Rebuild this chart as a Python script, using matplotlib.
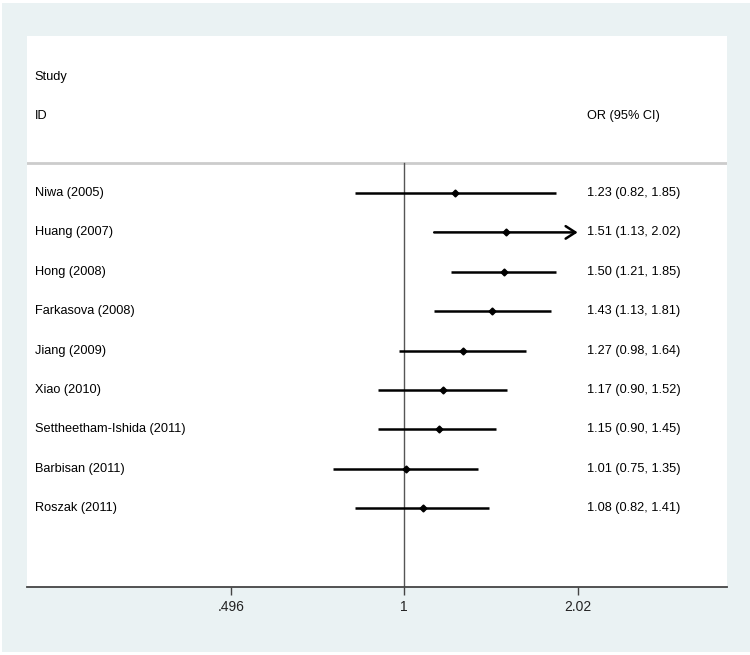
import numpy as np
import matplotlib
matplotlib.use("Agg")
import matplotlib.pyplot as plt
from matplotlib.patches import Rectangle

studies = ["Niwa (2005)", "Huang (2007)", "Hong (2008)", "Farkasova (2008)", "Jiang (2009)",
           "Xiao (2010)", "Settheetham-Ishida (2011)", "Barbisan (2011)", "Roszak (2011)"]
orv = [1.23, 1.51, 1.50, 1.43, 1.27, 1.17, 1.15, 1.01, 1.08]
lo = [0.82, 1.13, 1.21, 1.13, 0.98, 0.90, 0.90, 0.75, 0.82]
hi = [1.85, 2.02, 1.85, 1.81, 1.64, 1.52, 1.45, 1.35, 1.41]
tick_vals = [0.496, 1, 2.02]
tick_labels = [".496", "1", "2.02"]
clip_max = 2.02

plt.rcParams['font.family'] = ['Liberation Sans', 'DejaVu Sans']

W, H = 750, 655
fig = plt.figure(figsize=(W/100, H/100), dpi=100, facecolor='white')
fig.patches.append(Rectangle((2/W, 3/H), 1 - 2/W, 1 - 6/H, transform=fig.transFigure,
                             facecolor='#eaf2f3', edgecolor='none', zorder=-10))

L, R, T, B = 27, 727, 36, 587
ax = fig.add_axes([L/W, 1 - B/H, (R-L)/W, (B-T)/H])
ax.set_facecolor('white')

ppl = 247.0  # pixels per ln unit
x0 = 404
ax.set_xscale('log')
ax.set_xlim(np.exp((L - x0)/ppl), np.exp((R - x0)/ppl))
sp = 39.4
y0 = 193
ax.set_ylim((B - y0)/sp, (T - y0)/sp)

for s in ['top', 'left', 'right']:
    ax.spines[s].set_visible(False)
ax.spines['bottom'].set_color('#444444')
ax.spines['bottom'].set_linewidth(1.3)
ax.set_yticks([])
ax.set_xticks(tick_vals)
ax.set_xticklabels(tick_labels)
ax.minorticks_off()
ax.tick_params(axis='x', length=6, width=1, color='#444444', labelsize=10, pad=3.5,
               labelcolor='#222222')

fs = 9.2
yt = ax.get_yaxis_transform()
ax.text(0.011, (77 - y0)/sp, "Study", transform=yt, fontsize=fs, va='center', ha='left')
ax.text(0.011, (116 - y0)/sp, "ID", transform=yt, fontsize=fs, va='center', ha='left')
xv = (587 - L)/(R - L)
ax.text(xv, (116 - y0)/sp, "OR (95% CI)", transform=yt, fontsize=fs, va='center', ha='left')
ax.axhline((163 - y0)/sp, color='#cccccc', lw=2)

# reference line
ax.plot([1, 1], [(163 - y0)/sp, (B - y0)/sp], color='#555555', lw=1)

for i, (s, o, l, h) in enumerate(zip(studies, orv, lo, hi)):
    ax.text(0.011, i, s, transform=yt, fontsize=fs, va='center', ha='left')
    ax.text(xv, i, f"{o:.2f} ({l:.2f}, {h:.2f})", transform=yt,
            fontsize=fs, va='center', ha='left')
    if h >= clip_max:
        ax.annotate("", xy=(h, i), xytext=(l, i),
                    arrowprops=dict(arrowstyle='->,head_length=0.7,head_width=0.45',
                                    color='black', lw=1.8, shrinkA=0, shrinkB=0))
    else:
        ax.plot([l, h], [i, i], color='black', lw=1.8, solid_capstyle='butt')
    ax.plot([o], [i], marker='D', color='black', markersize=3.5)

fig.savefig("out.png", dpi=100, facecolor=fig.get_facecolor())
